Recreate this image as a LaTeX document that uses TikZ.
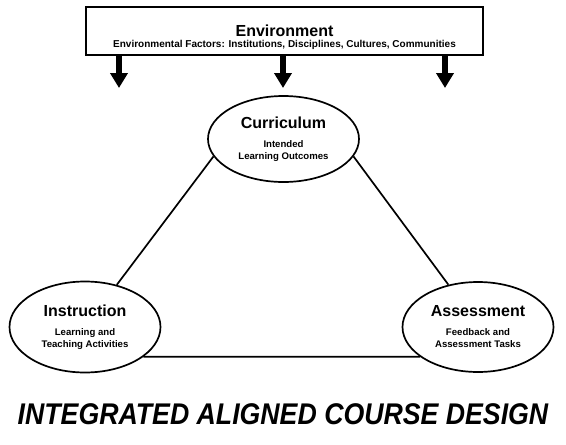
\documentclass[tikz,border=0pt]{standalone}
\usepackage{fontspec}
\setmainfont{Liberation Sans}
\usetikzlibrary{arrows.meta,shapes.geometric}
\newcommand{\headf}{\fontsize{16}{18}\selectfont\bfseries}
\newcommand{\subf}{\fontsize{9.6}{13}\selectfont\bfseries}
\newcommand{\envf}{\fontsize{10}{12}\selectfont\bfseries}
\tikzset{envbox/.style={draw,line width=1.7pt,fill=white,inner sep=0pt},
         goal/.style={draw,ellipse,line width=1.7pt,inner sep=0pt,align=center},
         link/.style={line width=1.7pt},
         downar/.style={-{Triangle[width=17pt,length=15pt]},line width=6pt}}

\begin{document}
\begin{tikzpicture}[x=1pt,y=-1pt]
\useasboundingbox (0,0) rectangle (566,445);
% environment box
\node[envbox,minimum width=397,minimum height=48] (env) at (284.5,31) {};
\node[align=center,inner sep=0pt] (envtxt) at (284.5,37)
   {\headf Environment\\[-1pt]\envf Environmental Factors: Institutions, Disciplines, Cultures, Communities};
% arrow tips
\coordinate (tipL) at (119,88);
\coordinate (tipM) at (283,88);
\coordinate (tipR) at (445,88);
\foreach \t in {tipL,tipM,tipR}
  \draw[downar] (env.south -| \t) -- (\t);
% the three corners
\node[goal,minimum width=151,minimum height=86] (curr) at (283.5,139)
   {\headf Curriculum\\[7pt]\subf Intended\\\subf Learning Outcomes};
\node[goal,minimum width=151,minimum height=91] (instr) at (85,327)
   {\headf Instruction\\[7pt]\subf Learning and\\\subf Teaching Activities};
\node[goal,minimum width=151,minimum height=90] (assess) at (478,327)
   {\headf Assessment\\[7pt]\subf Feedback and\\\subf Assessment Tasks};
% triangle
\draw[link] (curr.194) -- (instr.53);
\draw[link] (curr.346) -- (assess.125);
\draw[link] (instr.333) -- (assess.207);
% title
\node[font=\fontsize{26.7}{30}\selectfont\bfseries\itshape] (title) at (283,414)
   {\scalebox{1}[1.12]{INTEGRATED ALIGNED COURSE DESIGN}};
\end{tikzpicture}
\end{document}
